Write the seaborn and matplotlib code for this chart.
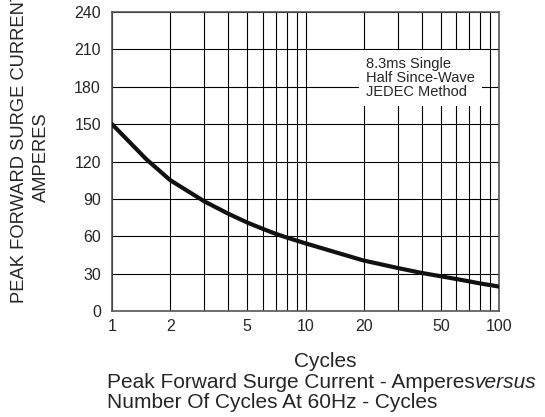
import numpy as np
import pandas as pd
import seaborn as sns
import matplotlib.pyplot as plt
from matplotlib.ticker import FixedLocator, FixedFormatter, NullFormatter

# values
cycles = [1, 1.5, 2, 3, 4, 5, 6, 7, 8, 9, 10, 15, 20, 30, 40, 50, 60, 70, 80, 90, 100]
current = [150, 122, 105, 88, 78, 71, 66, 62, 59, 56.5, 54.3, 46.2, 40.5, 34.5, 30.5, 27.9, 25.7, 23.8, 22.1, 20.8, 19.6]

x_major = [1, 2, 5, 10, 20, 50, 100]
x_minor = [3, 4, 6, 7, 8, 9, 30, 40, 60, 70, 80, 90]
y_ticks = [0, 30, 60, 90, 120, 150, 180, 210, 240]

note = "8.3ms Single\nHalf Since-Wave\nJEDEC Method"


def set_config():
    sns.set_style("white")
    plt.rcParams["font.family"] = ["Liberation Sans", "DejaVu Sans"]


set_config()
df = pd.DataFrame({"cycles": cycles, "current": current})

fig = plt.figure(figsize=(5.45, 4.17), dpi=100)
ax = fig.add_axes([112 / 545, 1 - 311 / 417, 387 / 545, 299 / 417])

sns.lineplot(data=df, x="cycles", y="current", ax=ax, color="#111111", linewidth=3, zorder=5)

ax.set_xscale("log")
ax.set_xlim(1, 100)
ax.set_ylim(0, 240)
ax.xaxis.set_major_locator(FixedLocator(x_major))
ax.xaxis.set_major_formatter(FixedFormatter([str(v) for v in x_major]))
ax.xaxis.set_minor_locator(FixedLocator(x_minor))
ax.xaxis.set_minor_formatter(NullFormatter())
ax.set_yticks(y_ticks)

ax.grid(True, which="both", color="black", linewidth=0.8)
ax.tick_params(axis="both", which="both", length=0, labelsize=11.5)
ax.tick_params(axis="y", pad=8)
ax.tick_params(axis="x", pad=6)
for s in ax.spines.values():
    s.set_color("#555555")
    s.set_linewidth(1.2)
ax.set_xlabel("")
ax.set_ylabel("")

# white note box covering the grid
ax.text(0.656, 0.85, note, transform=ax.transAxes, ha="left", va="top",
        fontsize=10.5, linespacing=1.0, zorder=6,
        bbox=dict(facecolor="white", edgecolor="none", boxstyle="square,pad=0.5"))

fig.text(20 / 545, 1 - 303 / 417, "PEAK FORWARD SURGE CURRENT", rotation=90,
         ha="center", va="bottom", fontsize=13.2)
fig.text(41 / 545, 1 - 157 / 417, "AMPERES", rotation=90,
         ha="center", va="center", fontsize=13.2)

fig.text(325 / 545, 1 - 367 / 417, "Cycles", ha="center", va="baseline", fontsize=15)
t1 = fig.text(107 / 545, 1 - 388 / 417, "Peak Forward Surge Current - Amperes",
              ha="left", va="baseline", fontsize=15)
ax.annotate("versus", xy=(1, 0), xycoords=t1, ha="left", va="bottom",
            fontsize=15, style="italic", annotation_clip=False)
fig.text(107 / 545, 1 - 408 / 417, "Number Of Cycles At 60Hz - Cycles",
         ha="left", va="baseline", fontsize=15)

fig.savefig("out.png", dpi=100)
